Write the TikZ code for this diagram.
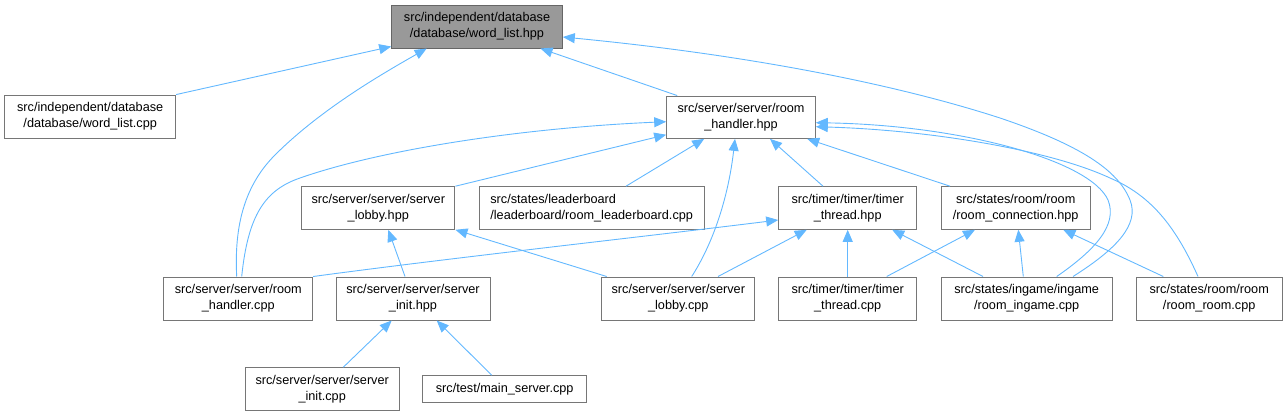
\documentclass[tikz,border=0pt]{standalone}
\usepackage{fontspec}
\setmainfont{Liberation Sans}
\usetikzlibrary{arrows.meta}
\definecolor{edgeblue}{HTML}{63B8FF}
\definecolor{boxgray}{HTML}{767676}
\definecolor{rootfill}{HTML}{999999}
\definecolor{rootline}{HTML}{666666}
\begin{document}
\begin{tikzpicture}[x=1pt,y=-1pt,
  nd/.style={draw=boxgray, line width=1pt, fill=white, inner sep=0pt, align=center,
             font=\fontsize{12.7}{16}\selectfont},
  root/.style={nd, fill=rootfill, draw=rootline},
  edge/.style={draw=edgeblue, line width=0.9pt, -{Triangle[length=12pt,width=10pt,fill=edgeblue]}},
]
\useasboundingbox (0,0) rectangle (1287,416);

% nodes
\node[root, minimum width=170.6pt, minimum height=43pt] (wlhpp) at (477,26.5) {src/independent/database\\/database/word\_list.hpp};
\node[nd, minimum width=171pt, minimum height=43.3pt] (wlcpp) at (90.2,116.7) {src/independent/database\\/database/word\_list.cpp};
\node[nd, minimum width=148.6pt, minimum height=42.3pt] (rhhpp) at (741,117.2) {src/server/server/room\\\_handler.hpp};

\node[nd, minimum width=153.3pt, minimum height=42.6pt] (slhpp) at (378.3,208) {src/server/server/server\\\_lobby.hpp};
\node[nd, align=left, minimum width=224.7pt, minimum height=42.6pt] (lbcpp) at (591.7,208) {src/states/leaderboard\\/leaderboard/room\_leaderboard.cpp};
\node[nd, minimum width=138pt, minimum height=42.6pt] (tthpp) at (847.7,208) {src/timer/timer/timer\\\_thread.hpp};
\node[nd, minimum width=149.3pt, minimum height=42.6pt] (rchpp) at (1015.7,208) {src/states/room/room\\/room\_connection.hpp};

\node[nd, minimum width=148.7pt, minimum height=43pt] (rhcpp) at (238.3,298.5) {src/server/server/room\\\_handler.cpp};
\node[nd, minimum width=154pt, minimum height=43pt] (sihpp) at (413,298.5) {src/server/server/server\\\_init.hpp};
\node[nd, minimum width=153.3pt, minimum height=43pt] (slcpp) at (678.3,298.5) {src/server/server/server\\\_lobby.cpp};
\node[nd, minimum width=138pt, minimum height=43pt] (ttcpp) at (847.7,298.5) {src/timer/timer/timer\\\_thread.cpp};
\node[nd, minimum width=171.3pt, minimum height=43pt] (ricpp) at (1026.7,298.5) {src/states/ingame/ingame\\/room\_ingame.cpp};
\node[nd, minimum width=146.3pt, minimum height=43pt] (rrcpp) at (1209.2,298.5) {src/states/room/room\\/room\_room.cpp};

\node[nd, minimum width=154.3pt, minimum height=43pt] (sicpp) at (322.2,389.2) {src/server/server/server\\\_init.cpp};
\node[nd, minimum width=164pt, minimum height=27pt] (mscpp) at (504.7,389.2) {src/test/main\_server.cpp};

% edges to word_list.hpp
\draw[edge] (wlcpp.north east) -- ([yshift=2pt]wlhpp.south west);
\draw[edge] ([xshift=-1.6pt]rhcpp.north) .. controls (234,225) and (245,185) .. (275,155)
            .. controls (320,110) and (380,75) .. ([xshift=-50.3pt]wlhpp.south);
\draw[edge] ([xshift=11pt]rhhpp.north west) -- ([xshift=-22.3pt]wlhpp.south east);
\draw[edge] ([xshift=46.3pt]ricpp.north) .. controls (1115,250) and (1140,225) .. (1130,200)
            .. controls (1118,170) and (1080,145) .. (1000,118)
            .. controls (920,92) and (780,58) .. ([yshift=-10.5pt]wlhpp.east);

% edges to room_handler.hpp
\draw[edge] ([xshift=3.4pt]rhcpp.north) .. controls (248,215) and (265,190) .. (300,178)
            .. controls (380,150) and (520,128) .. ([yshift=-4.5pt]rhhpp.west);
\draw[edge] (slhpp.north east) -- ([yshift=-17.5pt]rhhpp.west);
\draw[edge] ([xshift=34.3pt]lbcpp.north) -- ([xshift=38pt]rhhpp.south west);
\draw[edge] ([xshift=13.4pt]slcpp.north) .. controls (712,245) and (728,200) .. ([xshift=-6pt]rhhpp.south);
\draw[edge] ([xshift=-24.7pt]tthpp.north) -- ([xshift=29pt]rhhpp.south);
\draw[edge] ([xshift=-65.7pt]rchpp.north) -- ([xshift=-8.6pt]rhhpp.south east);
\draw[edge] ([xshift=30pt]ricpp.north) .. controls (1095,250) and (1118,225) .. (1108,200)
            .. controls (1090,160) and (960,125) .. ([yshift=-5.5pt]rhhpp.east);
\draw[edge] ([xshift=-11.2pt]rrcpp.north) .. controls (1175,225) and (1150,195) .. (1110,178)
            .. controls (1050,150) and (930,130) .. ([yshift=-9.5pt]rhhpp.east);

% edges to timer_thread.hpp
\draw[edge] (rhcpp.north east) .. controls (450,258) and (650,236) .. ([yshift=-12pt]tthpp.west);
\draw[edge] ([xshift=39.7pt]slcpp.north) -- ([xshift=-41pt]tthpp.south);
\draw[edge] (ttcpp.north) -- (tthpp.south);
\draw[edge] ([xshift=-43.7pt]ricpp.north) -- ([xshift=-25pt]tthpp.south east);

% edges to room_connection.hpp
\draw[edge] ([xshift=39pt]ttcpp.north) -- ([xshift=-40.7pt]rchpp.south);
\draw[edge] ([xshift=-3.4pt]ricpp.north) -- ([xshift=2.6pt]rchpp.south);
\draw[edge] ([xshift=-45.9pt]rrcpp.north) -- ([xshift=47.6pt]rchpp.south);

% edges to server_lobby.hpp
\draw[edge] ([xshift=-8pt]sihpp.north) -- ([xshift=10pt]slhpp.south);
\draw[edge] ([xshift=-71.6pt]slcpp.north) -- (slhpp.south east);

% edges to server_init.hpp
\draw[edge] ([xshift=21.1pt]sicpp.north) -- ([xshift=-21.3pt]sihpp.south);
\draw[edge] ([xshift=-13pt]mscpp.north) -- ([xshift=23.7pt]sihpp.south);
\end{tikzpicture}
\end{document}
